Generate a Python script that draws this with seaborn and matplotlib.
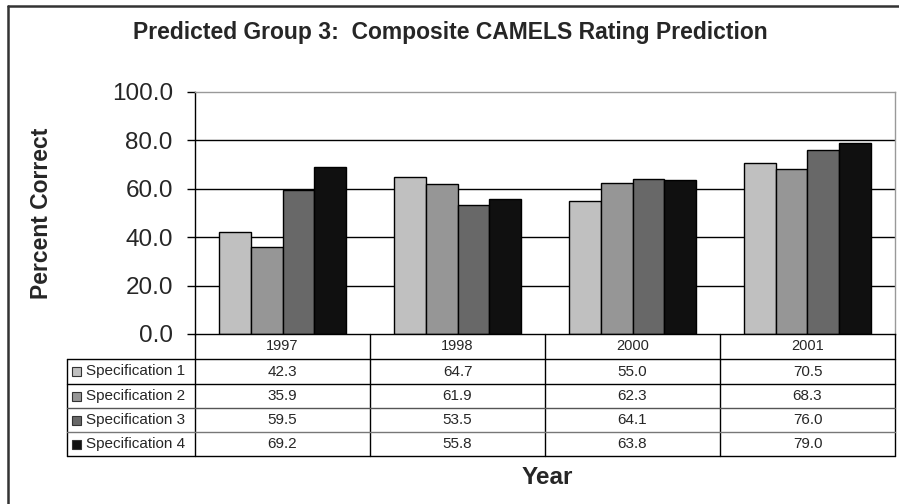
import matplotlib
matplotlib.use("Agg")
import matplotlib.pyplot as plt
from matplotlib.lines import Line2D
from matplotlib.patches import Rectangle
import seaborn as sns
import pandas as pd

# ---- data ----
years = ["1997", "1998", "2000", "2001"]
series_names = ["Specification 1", "Specification 2", "Specification 3", "Specification 4"]
spec1 = [42.3, 64.7, 55.0, 70.5]
spec2 = [35.9, 61.9, 62.3, 68.3]
spec3 = [59.5, 53.5, 64.1, 76.0]
spec4 = [69.2, 55.8, 63.8, 79.0]
series_values = [spec1, spec2, spec3, spec4]
yticks = [0, 20, 40, 60, 80, 100]
title = "Predicted Group 3:  Composite CAMELS Rating Prediction"
ylabel = "Percent Correct"
xlabel = "Year"

colors = ["#c0c0c0", "#969696", "#686868", "#101010"]

rows = []
for name, vals in zip(series_names, series_values):
    for yr, v in zip(years, vals):
        rows.append({"Year": yr, "Series": name, "Value": v})
df = pd.DataFrame(rows)

sns.set_theme(style="white")
plt.rcParams["font.family"] = ["Liberation Sans", "DejaVu Sans"]

W, H = 899, 504
fig = plt.figure(figsize=(W / 100, H / 100), dpi=100)


def fx(px):
    return px / W


def fy(py):
    return 1 - py / H


# outer frame (left and top visible)
fig.add_artist(Line2D([fx(8), fx(8)], [fy(6), fy(510)], transform=fig.transFigure,
                      color="#333333", lw=1.8))
fig.add_artist(Line2D([fx(8), fx(905)], [fy(6), fy(6)], transform=fig.transFigure,
                      color="#333333", lw=1.8))

# main axes
L, R, T, B = 195, 895, 92, 334
ax = fig.add_axes([fx(L), fy(B), fx(R - L), (B - T) / H])
sns.barplot(data=df, x="Year", y="Value", hue="Series", order=years,
            hue_order=series_names, palette=colors, width=0.73,
            edgecolor="black", linewidth=1.0, saturation=1, ax=ax, legend=False)
ax.set_xlim(-0.5, len(years) - 0.5)
ax.set_ylim(0, 100)
ax.set_yticks(yticks)
ax.set_yticklabels([f"{t:.1f}" for t in yticks], fontsize=17.5)
ax.set_xticks([])
ax.set_xlabel("")
ax.set_ylabel("")
for t in yticks[1:-1]:
    ax.axhline(t, color="black", lw=1.0, zorder=0.5)
ax.tick_params(axis="y", which="both", left=True, length=6, width=1, color="black",
               pad=10, direction="out")
for side in ["top", "right"]:
    ax.spines[side].set_color("#999999")
    ax.spines[side].set_linewidth(1)
for side in ["left", "bottom"]:
    ax.spines[side].set_color("black")
    ax.spines[side].set_linewidth(1)

fig.text(fx(450), fy(33), title, ha="center", va="center", fontsize=16.5,
         fontweight="bold")
fig.text(fx(42), fy(213), ylabel, ha="center", va="center", fontsize=16.5,
         fontweight="bold", rotation=90)
fig.text(fx(547), fy(478), xlabel, ha="center", va="center", fontsize=17.5,
         fontweight="bold")

# data table below
TL = 67
n = len(years)
ncol_units = (L - TL) / ((R - L) / n)
tax = fig.add_axes([fx(TL), fy(456), fx(R - TL), (456 - B) / H])
tax.set_xlim(-0.5 - ncol_units, n - 0.5)
row_edges = [0, 25, 50, 74, 98, 122]  # pixel offsets from B
tax.set_ylim(row_edges[-1], 0)
tax.axis("off")
x0 = -0.5 - ncol_units
# vertical lines
for i in range(n + 1):
    tax.plot([i - 0.5, i - 0.5], [0, row_edges[-1]], color="black", lw=1, clip_on=False)
tax.plot([x0, x0], [row_edges[1], row_edges[-1]], color="black", lw=1, clip_on=False)
# horizontal lines
line_cols = ["black", "black", "#555555", "#777777", "black"]
for k, yv in enumerate(row_edges[1:]):
    tax.plot([x0, n - 0.5], [yv, yv], color=line_cols[k], lw=1, clip_on=False)
# header
for i, yr in enumerate(years):
    tax.text(i, (row_edges[0] + row_edges[1]) / 2, yr, ha="center", va="center",
             fontsize=10.5)
# rows
unit_px = (R - L) / n
for r, (name, vals, c) in enumerate(zip(series_names, series_values, colors)):
    yc = (row_edges[r + 1] + row_edges[r + 2]) / 2
    sq = 9
    tax.add_patch(Rectangle((x0 + 5 / unit_px, yc - sq / 2), sq / unit_px, sq,
                            facecolor=c, edgecolor="#333333", lw=0.8, clip_on=False))
    tax.text(x0 + 19 / unit_px, yc, name, ha="left", va="center", fontsize=11)
    for i, v in enumerate(vals):
        tax.text(i, yc, f"{v:.1f}", ha="center", va="center", fontsize=11)

fig.savefig("out.png", dpi=100)
